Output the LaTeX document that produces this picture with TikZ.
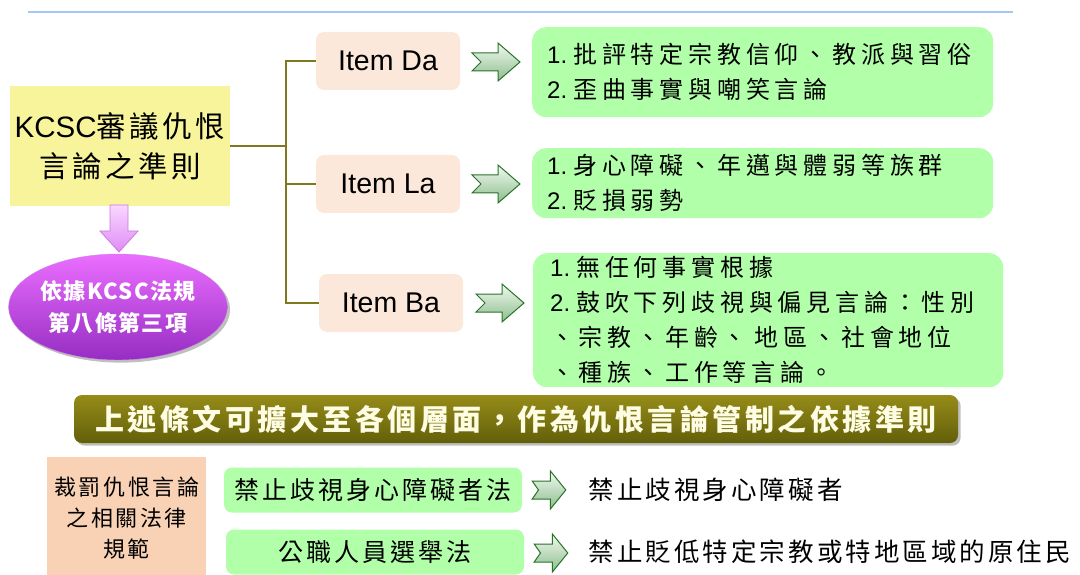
\documentclass[tikz,border=0pt]{standalone}
\usepackage{fontspec}
\setmainfont{Liberation Sans}
\newfontfamily\kai[LetterSpace=12]{Noto Sans CJK TC}
\newfontfamily\kaiwide[LetterSpace=20]{Noto Sans CJK TC}
\newfontfamily\kaitight[LetterSpace=6]{Noto Sans CJK TC}
\usetikzlibrary{shapes.geometric,shadows}

\definecolor{rulecol}{RGB}{165,200,240}
\definecolor{critfill}{RGB}{248,244,155}
\definecolor{branchcol}{RGB}{128,120,30}
\definecolor{itemfill}{RGB}{252,232,218}
\definecolor{leaffill}{RGB}{178,255,170}
\definecolor{notchline}{RGB}{40,115,40}
\definecolor{notchtop}{RGB}{242,248,242}
\definecolor{notchbot}{RGB}{140,190,140}
\definecolor{pinkline}{RGB}{205,120,225}
\definecolor{pinktop}{RGB}{250,215,255}
\definecolor{pinkbot}{RGB}{222,140,245}
\definecolor{lawline}{RGB}{200,140,220}
\definecolor{lawtop}{RGB}{235,110,255}
\definecolor{lawbot}{RGB}{150,45,195}
\definecolor{bannertop}{RGB}{150,140,25}
\definecolor{bannerbot}{RGB}{98,95,10}
\definecolor{bannertext}{RGB}{255,252,228}
\definecolor{normfill}{RGB}{249,210,182}

\tikzset{
  pics/notch/.style={code={
    \path[draw=notchline,line width=1pt,top color=notchtop,bottom color=notchbot]
      (-24,-9) -- (2,-9) -- (2,-19) -- (24,0) -- (2,19) -- (2,9) -- (-24,9) -- (-15,0) -- cycle;}}
}
\newcommand\num[1]{{\rmfamily #1.}\kern6pt}

\begin{document}
\begin{tikzpicture}[x=1pt,y=-1pt,
    critbox/.style={fill=critfill,minimum width=220pt,minimum height=120pt,align=center,font=\fontsize{29.5}{40}\selectfont},
    itembox/.style={fill=itemfill,rounded corners=8pt,minimum width=144pt,minimum height=58pt,font=\fontsize{28.5}{30}\selectfont},
    leafbox/.style={fill=leaffill,rounded corners=14pt,anchor=north west,align=left,inner xsep=15pt,font=\kaiwide\fontsize{24}{35}\selectfont},
    actbox/.style={fill=leaffill,rounded corners=8pt,minimum width=298pt,minimum height=45pt,inner xsep=4pt,font=\kai\fontsize{25}{30}\selectfont},
    branch/.style={draw=branchcol,line width=1.2pt}]
  \useasboundingbox (0,0) rectangle (1080,575);
  \draw[rulecol,line width=1.5pt] (28,12) -- (1013,12);

  % criteria and its three items
  \node[critbox] (crit) at (120,146) {KCSC{\kai 審議仇恨}\\{\kai 言論之準則}};
  \node[itembox] (da) at (388,61) {Item Da};
  \node[itembox] (la) at (388,184) {Item La};
  \node[itembox] (ba) at (391,303) {Item Ba};
  \coordinate (hub) at (286,146);
  \draw[branch] (crit.east) -- (hub);
  \draw[branch] (hub) |- (da.west);
  \draw[branch] (hub) |- (la.west);
  \draw[branch] (hub) |- (ba.west);

  \node[leafbox,minimum width=461pt,minimum height=90pt,text width=431pt] (dal) at (532,27)
    {\num1批評特定宗教信仰、教派與習俗\\\num2歪曲事實與嘲笑言論};
  \node[leafbox,minimum width=461pt,minimum height=70pt,text width=431pt] (lal) at (532,148)
    {\num1身心障礙、年邁與體弱等族群\\\num2貶損弱勢};
  \node[leafbox,minimum width=470pt,minimum height=134pt,text width=436pt,inner xsep=17pt] (bal) at (533,253)
    {\num1無任何事實根據\\\num2鼓吹下列歧視與偏見言論：性別\\、宗教、年齡、~地區、社會地位\\、種族、工作等言論。};
  \foreach \ax/\ay in {496/62,496/184,500/303}
    \pic at (\ax,\ay) {notch};

  % legal basis
  \path[draw=pinkline,line width=0.8pt,top color=pinktop,bottom color=pinkbot]
    (110,205) -- (128,205) -- (128,231) -- (138,231) -- (119,252) -- (100,231) -- (110,231) -- cycle;
  \node[ellipse,minimum width=176pt,minimum height=106pt,inner sep=0pt,draw=lawline,
    top color=lawtop,bottom color=lawbot,drop shadow,text=white,align=center,
    font=\kaitight\bfseries\fontsize{22}{32}\selectfont] (law) at (118,307) {依據KCSC法規\\第八條第三項};

  \node[rounded corners=8pt,minimum width=884pt,minimum height=48pt,top color=bannertop,
    bottom color=bannerbot,drop shadow,text=bannertext,font=\kai\bfseries\fontsize{29}{34}\selectfont]
    (wide) at (516,419) {上述條文可擴大至各個層面，作為仇恨言論管制之依據準則};

  % related laws
  \node[fill=normfill,anchor=north west,minimum width=159pt,minimum height=122pt,inner xsep=2pt,
    align=center,font=\kai\fontsize{22}{31}\selectfont] (norm) at (47,457) {裁罰仇恨言論\\之相關法律\\規範};
  \node[actbox] (act1) at (373,490) {禁止歧視身心障礙者法};
  \node[actbox] (act2) at (375,552) {公職人員選舉法};
  \pic[xscale=0.7] at (549,490) {notch};
  \pic[xscale=0.7] at (551,553) {notch};
  \node[anchor=west,font=\kai\fontsize{25.5}{30}\selectfont] (ban1) at (585,490) {禁止歧視身心障礙者};
  \node[anchor=west,font=\kai\fontsize{25.5}{30}\selectfont] (ban2) at (585,552) {禁止貶低特定宗教或特地區域的原住民};
\end{tikzpicture}
\end{document}
